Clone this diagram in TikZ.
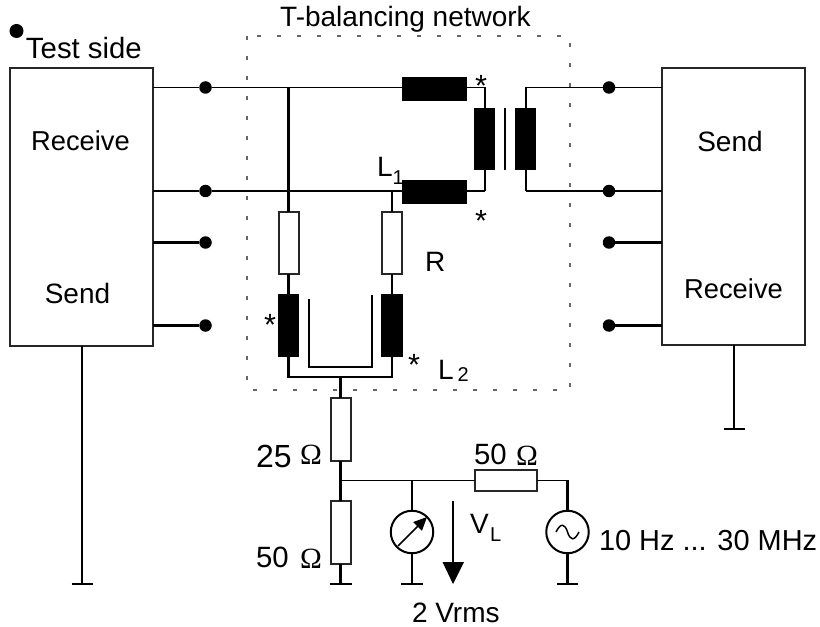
\documentclass[tikz,border=0pt]{standalone}
\usepackage{fontspec}
\setmainfont{Liberation Sans}
\newfontfamily\omfont{Liberation Serif}
\usetikzlibrary{arrows.meta}
\newcommand{\txtA}{\fontsize{21}{24}\selectfont}
\newcommand{\txtB}{\fontsize{15}{18}\selectfont}
\newcommand{\ohm}{{\omfont\fontsize{22}{24}\selectfont Ω}}
\tikzset{
  x=0.75pt,y=-0.75pt,
  wire/.style={draw=black,line width=1.6pt,line join=miter},
  thin wire/.style={draw=black,line width=1.1pt},
  sized/.style 2 args={minimum width=#1*0.75pt,minimum height=#2*0.75pt,inner sep=0pt,outer sep=0pt},
  coil/.style 2 args={sized={#1}{#2},fill=black,draw=none},
  res/.style 2 args={sized={#1}{#2},draw=black!85,line width=1.5pt,fill=white},
  block/.style 2 args={sized={#1}{#2},draw=black!85,line width=1.4pt},
  term/.style={circle,fill=black,sized={12.5}{12.5}},
  lbl/.style={font=\txtA,inner sep=0pt,outer sep=0pt,anchor=base},
  lblw/.style={font=\txtA,inner sep=0pt,outer sep=0pt,anchor=base west},
  star/.style={font=\fontsize{23}{24}\selectfont,inner sep=0pt,outer sep=0pt},
  dial/.style={circle,draw=black,line width=1.5pt,sized={42.5}{42.5},fill=white},
  frame/.style={draw=black!60,line width=0.9pt,dash pattern=on 3pt off 12pt},
}
\begin{document}
\begin{tikzpicture}
\useasboundingbox (0,0) rectangle (820,627);
% frame
\draw[frame] (247,36) rectangle (570,390);
% blocks
\node[block={143}{278}] (lbox) at (81.5,207) {};
\node[block={143}{277}] (rbox) at (733.5,206.5) {};
% terminals
\node[term] (tl1) at (205.5,87.5) {};
\node[term] (tl2) at (205.5,191) {};
\node[term] (tl3) at (205.5,242.5) {};
\node[term] (tl4) at (205.5,325.5) {};
\node[term] (tr1) at (609,87.5) {};
\node[term] (tr2) at (609,191) {};
\node[term] (tr3) at (609,242.5) {};
\node[term] (tr4) at (609,325.5) {};
\node[circle,fill=black,sized={14}{14}] (spot) at (16.5,31) {};
% coils
\node[coil={65}{24}] (ctop) at (434.5,89) {};
\node[coil={65}{24}] (cbot) at (434.5,192) {};
\node[coil={21}{62}] (cp) at (484.5,139) {};
\node[coil={21}{62}] (cs) at (525.5,139) {};
\node[coil={21}{63}] (cl) at (288.5,325.5) {};
\node[coil={22}{63}] (cr) at (392,325.5) {};
% resistors
\node[res={20}{62}] (rl) at (288.5,243) {};
\node[res={20}{62}] (rr) at (392,243) {};
\node[res={20}{63}] (r25) at (340.5,429.5) {};
\node[res={20}{63}] (r50) at (340.5,532.3) {};
\node[res={62}{20.5}] (r50h) at (505.5,480.3) {};
% instruments
\node[dial] (meter) at (412,532) {};
\node[dial] (src) at (567.5,532) {};
% junctions and ground points
\coordinate (jtop) at (485,87.5);
\coordinate (jbot) at (485,191);
\coordinate (jstop) at (526,87.5);
\coordinate (jsbot) at (526,191);
\coordinate (jl) at (288.5,377);
\coordinate (jr) at (392,377);
\coordinate (jm) at (340.5,377);
\coordinate (j1) at (340.5,480.3);
\coordinate (j2) at (412,480.3);
\coordinate (j3) at (567.5,480.3);
\coordinate (g0) at (82,584);
\coordinate (g1) at (734,429);
\coordinate (g2) at (340.5,584);
\coordinate (g3) at (412,584);
\coordinate (g4) at (567.5,584);
\coordinate (cb) at (505,108);
\coordinate (ce) at (505,170);
\coordinate (ua) at (309,299);
\coordinate (ub) at (309,367);
\coordinate (uc) at (372,367);
\coordinate (ud) at (372,295);
\coordinate (va) at (453,501);
\coordinate (vb) at (453,584);
\coordinate (vh) at (453,563);
% left side connectors
\draw[thin wire] (lbox.east |- tl1) -- (tl1);
\draw[thin wire] (tl1) -- (ctop.west |- tl1);
\draw[wire] (lbox.east |- tl2) -- (tl2);
\draw[wire] (tl2) -- (cbot.west |- tl2);
\draw[wire] (lbox.east |- tl3) -- (tl3);
\draw[wire] (lbox.east |- tl4) -- (tl4);
% right side connectors
\draw[thin wire] (rbox.west |- tr1) -- (tr1);
\draw[thin wire] (tr1) -- (jstop) -- (cs.north -| jstop);
\draw[wire] (rbox.west |- tr2) -- (tr2);
\draw[wire] (tr2) -- (jsbot);
\draw[thin wire] (jsbot) -- (cs.south -| jsbot);
\draw[wire] (rbox.west |- tr3) -- (tr3);
\draw[wire] (rbox.west |- tr4) -- (tr4);
% transformer
\draw[thin wire] (ctop.east |- jtop) -- (jtop);
\draw[wire] (jtop) -- (jtop |- cp.north);
\draw[wire] (jbot |- cp.south) -- (jbot);
\draw[thin wire] (cbot.east |- jbot) -- (jbot);
\draw[wire] (cb) -- (ce);
% balancing branches
\draw[wire] (rl.north |- tl1) -- (rl.north);
\draw[wire] (rr.north |- tl2) -- (rr.north);
\draw[wire] (rl.south) -- (cl.north);
\draw[wire] (rr.south) -- (cr.north);
\draw[wire] (cl.south) -- (jl) -- (jr) -- (cr.south);
\draw[wire] (jm) -- (r25.north);
\draw[thin wire] (ua) -- (ub) -- (uc) -- (ud);
% lower circuit
\draw[wire] (r25.south) -- (r50.north);
\draw[thin wire] (j1) -- (r50h.west);
\draw[thin wire] (r50h.east) -- (j3);
\draw[wire] (j2) -- (meter.north);
\draw[wire] (j3) -- (src.north);
\draw[wire] (lbox.south -| g0) -- (g0);
\draw[wire] (rbox.south -| g1) -- (g1);
\draw[wire] (r50.south) -- (g2);
\draw[wire] (meter.south) -- (g3);
\draw[wire] (src.south) -- (g4);
\foreach \g/\w in {g0/10.5,g1/10.5,g2/11,g3/11,g4/10.5}{
  \draw[wire] (\g) ++(-\w,0) -- ++(2*\w,0);
}
% meter needle, tilde, voltage arrow
\draw[thin wire,-{Triangle[length=10pt,width=9pt]}] (398,546) -- (427,517);
\draw[thin wire] (556,532) .. controls (561,522) and (565,524) .. (567.5,532) .. controls (570,540) and (574,542) .. (579,532);
\draw[thin wire] (va) -- (vh);
\fill[black] (vb) -- (442.5,562) -- (464,562) -- cycle;
% labels
\node[lbl] (title) at (405.5,27) {T-balancing network};
\node[lblw,font=\fontsize{22}{24}\selectfont] (tside) at (26,59) {Test side};
\node[lbl,font=\fontsize{20.5}{24}\selectfont] (l1a) at (80.5,151) {Receive};
\node[lbl] (l1b) at (77.5,303) {Send};
\node[lbl] (r1a) at (730,152) {Send};
\node[lbl,font=\fontsize{20.5}{24}\selectfont] (r1b) at (733.5,298) {Receive};
\node[star] (s1) at (481,86) {*};
\node[star] (s2) at (481,221) {*};
\node[star] (s3) at (270,325) {*};
\node[star] (s4) at (414,365) {*};
\node[lblw] (L1) at (377,177) {L\raisebox{-5.5pt}{\txtB 1}};
\node[lblw] (R) at (425,271) {R};
\node[lblw] (L2) at (438,379) {L\hspace{3pt}\raisebox{-2.2pt}{\txtB 2}};
\node[lblw,font=\fontsize{24}{26}\selectfont] (o25) at (256,467) {25};
\node[lblw] (o25s) at (300,464) {\ohm};
\node[lblw,font=\fontsize{22}{24}\selectfont] (o50) at (256,567) {50};
\node[lblw] (o50s) at (300,568) {\ohm};
\node[lblw,font=\fontsize{22}{24}\selectfont] (o50h) at (474,464) {50};
\node[lblw] (o50hs) at (516,465) {\ohm};
\node[lblw] (vl) at (470,533) {V\raisebox{-6.5pt}{\hspace{1pt}\txtB L}};
\node[lblw,font=\fontsize{21.7}{24}\selectfont] (freq) at (599,550) {10 Hz ... 30 MHz};
\node[lblw] (vr) at (412,622) {2 Vrms};
\end{tikzpicture}
\end{document}
